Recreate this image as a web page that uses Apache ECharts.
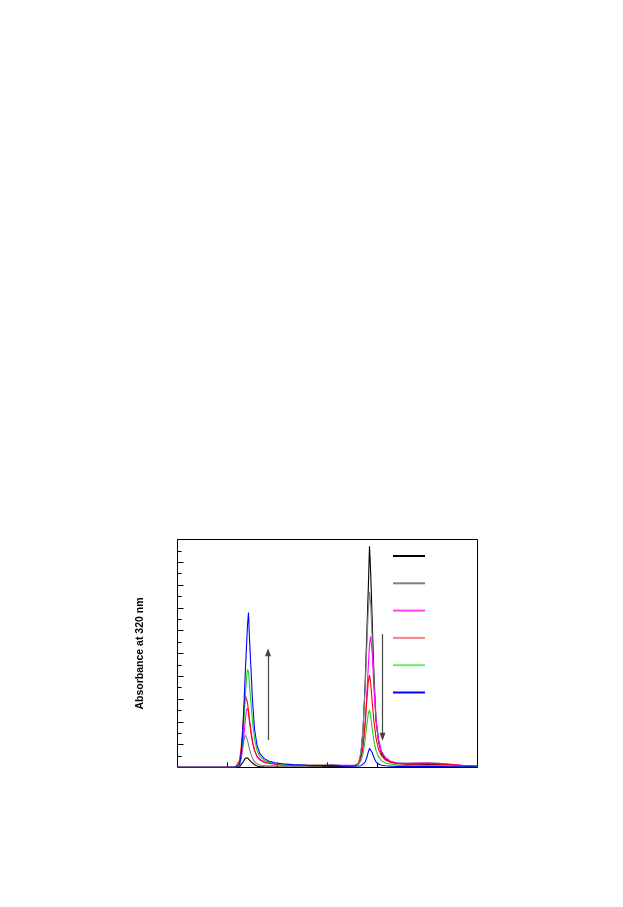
<!DOCTYPE html>
<html>
<head>
<meta charset="utf-8">
<script src="https://cdn.jsdelivr.net/npm/echarts@6/dist/echarts.min.js"></script>
<style>
html,body{margin:0;padding:0;background:#fff;}
#chart{width:623px;height:907px;}
</style>
</head>
<body>
<div id="chart"></div>
<script>
// Retention-time grid (x values, arbitrary units 0-60)
const timeX = [0, 8, 10,
  11, 11.6, 12.0, 12.4, 12.7, 13.0, 13.3, 13.55, 13.8, 14.0, 14.2, 14.4, 14.7, 15.0, 15.4, 15.9, 16.5, 17.3, 18.3, 19.5, 21, 23,
  26, 29, 31,
  33, 35.5, 36.2, 36.7, 37.1, 37.5, 37.85, 38.15, 38.4, 38.65, 38.95, 39.3, 39.7, 40.2, 40.8, 41.6, 42.6, 44, 46,
  48, 50, 52, 54, 57, 60];

// Absorbance values for each trace
const blackY = [0.02,0.02,0.02,
  0.02,0.02,0.03,0.07,0.2,0.4,0.62,0.8,0.87,0.85,0.78,0.68,0.52,0.38,0.24,0.13,0.08,0.06,0.05,0.05,0.05,0.05,
  0.06,0.08,0.1,
  0.1,0.15,0.3,1.2,3.2,7.0,11.6,15.6,19.4,16.9,12.7,8.0,4.1,2.3,1.2,0.75,0.5,0.35,0.3,
  0.28,0.26,0.25,0.22,0.15,0.1];
const grayY = [0.02,0.02,0.02,
  0.02,0.04,0.1,0.4,0.9,1.6,2.4,2.85,2.7,2.4,2.0,1.6,1.15,0.8,0.5,0.32,0.22,0.17,0.15,0.14,0.13,0.12,
  0.13,0.15,0.18,
  0.15,0.2,0.4,1.4,3.4,6.8,10.5,13.8,15.4,14.2,11.2,7.4,4.3,2.5,1.4,0.85,0.55,0.4,0.38,
  0.4,0.42,0.38,0.3,0.18,0.1];
const magentaY = [0.02,0.02,0.02,
  0.02,0.03,0.06,0.25,0.7,1.6,2.9,4.1,5.0,5.2,4.9,4.2,3.2,2.3,1.5,0.95,0.65,0.45,0.35,0.28,0.23,0.2,
  0.2,0.2,0.22,
  0.2,0.2,0.3,0.8,1.9,3.8,6.3,8.8,10.8,11.5,10.0,6.9,4.2,2.4,1.4,0.85,0.55,0.38,0.35,
  0.38,0.38,0.35,0.3,0.2,0.12];
const redY = [0.02,0.02,0.02,
  0.02,0.04,0.12,0.6,1.6,3.2,5.0,6.35,6.2,5.7,4.9,4.0,3.0,2.2,1.5,1.0,0.7,0.5,0.38,0.3,0.25,0.2,
  0.2,0.2,0.2,
  0.18,0.2,0.3,0.8,1.8,3.6,5.8,7.5,8.1,7.3,5.7,4.0,2.6,1.6,1.0,0.65,0.45,0.33,0.3,
  0.32,0.33,0.3,0.25,0.18,0.1];
const greenY = [0.02,0.02,0.02,
  0.02,0.03,0.06,0.3,1.0,2.2,4.2,6.2,7.8,8.6,8.4,7.3,5.6,4.0,2.5,1.5,0.95,0.65,0.45,0.35,0.28,0.22,
  0.2,0.2,0.2,
  0.18,0.2,0.3,0.6,1.2,2.3,3.7,4.7,5.05,4.5,3.4,2.3,1.5,0.95,0.6,0.4,0.3,0.22,0.18,
  0.15,0.14,0.13,0.12,0.1,0.08];
const blueY = [0.02,0.02,0.02,
  0.02,0.03,0.05,0.25,1.1,2.6,5.6,8.3,10.6,12.5,13.6,11.3,8.6,5.9,3.4,1.95,1.2,0.8,0.55,0.42,0.33,0.25,
  0.2,0.18,0.2,
  0.12,0.12,0.13,0.16,0.25,0.45,0.85,1.35,1.68,1.65,1.3,0.85,0.5,0.3,0.2,0.15,0.12,0.1,0.1,
  0.1,0.1,0.1,0.08,0.07,0.06];

const seriesNames = ['s1','s2','s3','s4','s5','s6'];
const seriesColors = ['#000000','#808080','#ff00ff','#ff0000','#22cc22','#0000ff'];
const legendColors = ['#000000','#808080','#ff40ff','#ff8080','#66ee66','#0000ff'];
const seriesValues = [blackY, grayY, magentaY, redY, greenY, blueY];

// Annotation arrows (data coordinates)
const upArrow = [[18.1, 2.4], [18.1, 10.1]];
const downArrow = [[41.0, 11.7], [41.0, 2.7]];

const chart = echarts.init(document.getElementById('chart'), null, {renderer:'canvas'});

const series = seriesValues.map((vals, i) => ({
  name: seriesNames[i],
  type: 'line',
  data: timeX.map((x, j) => [x, vals[j]]),
  showSymbol: false,
  symbol: 'none',
  lineStyle: {color: seriesColors[i], width: 1.1},
  itemStyle: {color: seriesColors[i]},
  z: 2 + i,
  animation: false
}));

series.push({
  type: 'line',
  data: [],
  silent: true,
  markLine: {
    silent: true,
    animation: false,
    symbol: ['none', 'triangle'],
    symbolSize: [6, 8],
    label: {show: false},
    lineStyle: {color: '#444444', width: 1.2, type: 'solid'},
    emphasis: {disabled: true},
    data: [
      [{coord: upArrow[0]}, {coord: upArrow[1]}],
      [{coord: downArrow[0]}, {coord: downArrow[1]}]
    ]
  }
});

chart.setOption({
  animation: false,
  backgroundColor: '#ffffff',
  grid: {
    left: 177.5, top: 539.5, right: 145.5, bottom: 139.5,
    show: true, borderColor: '#000', borderWidth: 1, backgroundColor: 'transparent'
  },
  legend: {
    orient: 'vertical',
    left: 393,
    top: 555,
    padding: 0,
    icon: 'rect',
    itemWidth: 32,
    itemHeight: 2,
    itemGap: 25.3,
    formatter: () => '',
    textStyle: {fontSize: 12},
    selectedMode: false,
    data: seriesNames.map((n, i) => ({name: n, itemStyle: {color: legendColors[i]}}))
  },
  xAxis: {
    type: 'value',
    min: 0, max: 60, interval: 10,
    axisLine: {show: true, lineStyle: {color: '#000', width: 1}},
    axisTick: {show: true, inside: true, length: 5, lineStyle: {color: '#000'}},
    axisLabel: {show: false},
    splitLine: {show: false}
  },
  yAxis: {
    type: 'value',
    min: 0, max: 20, interval: 2,
    name: 'Absorbance at 320 nm',
    nameLocation: 'middle',
    nameGap: 32,
    nameRotate: 90,
    nameTextStyle: {fontFamily: 'Liberation Sans, Arial, sans-serif', fontWeight: 'bold', fontSize: 10.5, color: '#000'},
    axisLine: {show: true, lineStyle: {color: '#000', width: 1}},
    axisTick: {show: true, inside: true, length: 6, lineStyle: {color: '#000'}},
    minorTick: {show: true, splitNumber: 2, length: 4, lineStyle: {color: '#000'}},
    axisLabel: {show: false},
    splitLine: {show: false},
    minorSplitLine: {show: false}
  },
  series: series
});
</script>
</body>
</html>
